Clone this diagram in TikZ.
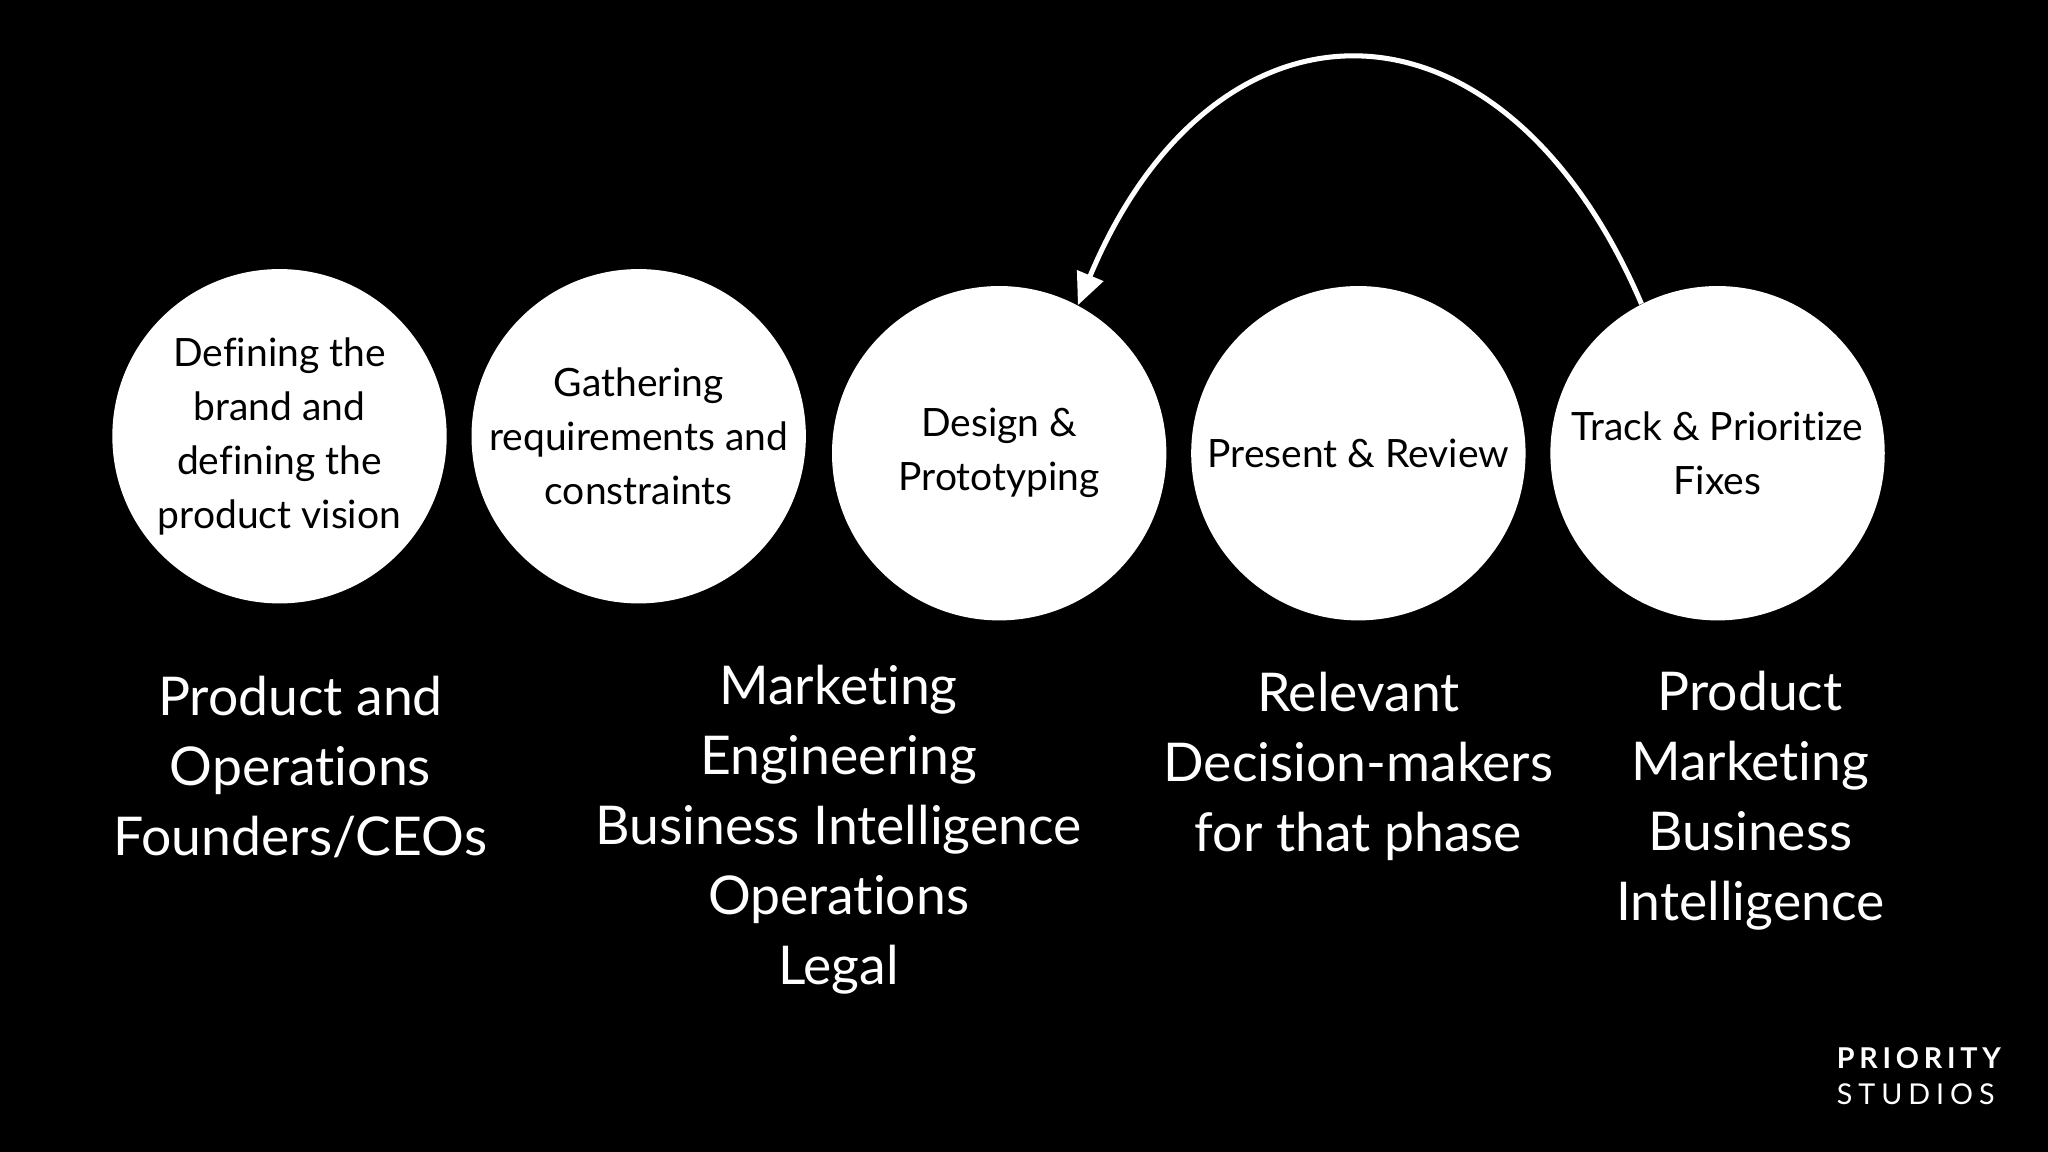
\documentclass[tikz,border=0pt]{standalone}
\usepackage{fontspec}
\setmainfont[Ligatures={NoCommon}]{Lato}
\usetikzlibrary{arrows.meta}
\begin{document}
\begin{tikzpicture}[x=0.02cm,y=-0.02cm,
  stage/.style={circle,fill=white,minimum size=256*0.02cm,inner sep=0pt,align=center,font=\fontsize{17}{23.5}\selectfont,text=black},
  team/.style={align=center,text=white,font=\fontsize{23.3}{30.5}\selectfont}]
\fill[black] (0,0) rectangle (1568,882);
\useasboundingbox (0,0) rectangle (1568,882);
\node[stage] (a) at (214,334) {Defining the\\brand and\\defining the\\product vision};
\node[stage] (b) at (489,334) {Gathering\\requirements and\\constraints};
\node[stage] (c) at (765,347) {Design \&\\Prototyping};
\node[stage] (d) at (1040,347) {Present \& Review};
\node[stage] (e) at (1315,347) {Track \& Prioritize\\Fixes};
\draw[white,line width=2.2pt,-{Triangle[length=14pt,width=12pt]}] (e.117) .. controls (1150,-17) and (930,-17) .. (c.62);
\node[team] (ta) at (230,587) {Product and\\Operations\\Founders/CEOs};
\node[team] (tb) at (642,635) {Marketing\\Engineering\\Business Intelligence\\Operations\\Legal};
\node[team] (td) at (1040,587) {Relevant\\Decision-makers\\for that phase};
\node[team] (te) at (1340,613) {Product\\Marketing\\Business\\Intelligence};
\node[text=white,font=\fontsize{12.5}{14}\selectfont\bfseries,anchor=west,inner sep=0pt] (l1) at (1406,810) {P\,R\,I\,O\,R\,I\,T\,Y};
\node[text=white,font=\fontsize{12.5}{14}\selectfont,anchor=west,inner sep=0pt] (l2) at (1406,838) {S\hspace{2.6pt}T\hspace{2.6pt}U\hspace{2.6pt}D\hspace{2.6pt}I\hspace{2.6pt}O\hspace{2.6pt}S};
\end{tikzpicture}
\end{document}
